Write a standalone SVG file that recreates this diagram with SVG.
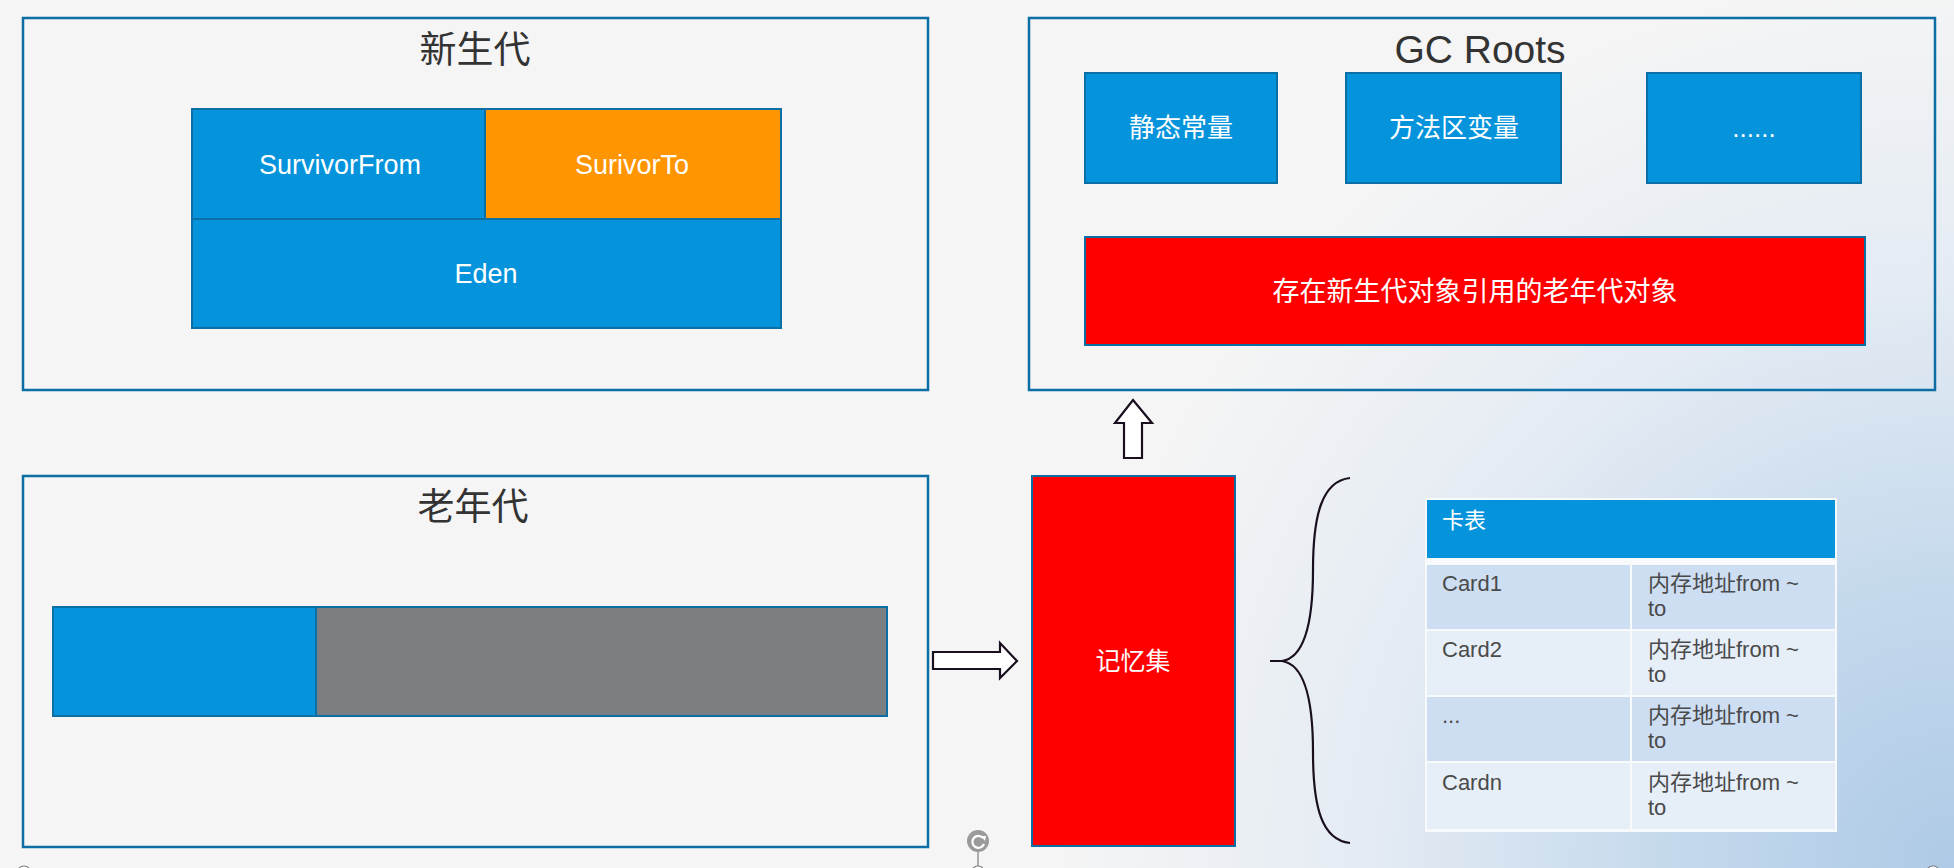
<svg xmlns="http://www.w3.org/2000/svg" width="1954" height="868" viewBox="0 0 1954 868">
<defs>
<radialGradient id="bg" gradientUnits="userSpaceOnUse" cx="1954" cy="868" r="900">
<stop offset="0" stop-color="#aecae6"/>
<stop offset="0.3" stop-color="#c3d8ec"/>
<stop offset="0.65" stop-color="#e4ebf3"/>
<stop offset="1" stop-color="#f5f5f5"/>
</radialGradient>
<style>
.frame{fill:none;stroke:#0b6ea5;stroke-width:2.5}
.blue{fill:#0594dc;stroke:#0b6ea5;stroke-width:2}
.orange{fill:#ff9500;stroke:#0b6ea5;stroke-width:2}
.red{fill:#ff0000;stroke:#0b6ea5;stroke-width:2}
.gray{fill:#7b7f82;stroke:#0b6ea5;stroke-width:2}
.arrow{fill:#ffffff;stroke:#1a0f1f;stroke-width:2.2;stroke-linejoin:miter}
.title{font-family:"Liberation Sans","Noto Sans CJK SC",sans-serif;fill:#333333;text-anchor:middle}
.wt{font-family:"Liberation Sans","Noto Sans CJK SC",sans-serif;fill:#ffffff;text-anchor:middle;dominant-baseline:central}
.cell{font-family:"Liberation Sans","Noto Sans CJK SC",sans-serif;fill:#4a4a4a;font-size:22px}
.r1{fill:#cddef2}
.r2{fill:#e6eef8}
</style>
</defs>
<rect x="0" y="0" width="1954" height="868" fill="url(#bg)"/>

<g id="young-gen">
<rect class="frame" x="23" y="18" width="905" height="372"/>
<text class="title" x="475" y="50" font-size="37" dominant-baseline="central">新生代</text>
</g>
<g id="survivor-from">
<rect class="blue" x="192" y="109" width="293" height="110"/>
<text class="wt" x="340" y="165" font-size="27">SurvivorFrom</text>
</g>
<g id="survivor-to">
<rect class="orange" x="485" y="109" width="296" height="110"/>
<text class="wt" x="632" y="165" font-size="27">SurivorTo</text>
</g>
<g id="eden">
<rect class="blue" x="192" y="219" width="589" height="109"/>
<text class="wt" x="486" y="274" font-size="27">Eden</text>
</g>

<g id="gc-roots">
<rect class="frame" x="1029" y="18" width="906" height="372"/>
<text class="title" x="1480" y="63" font-size="39">GC Roots</text>
</g>
<g id="static-const">
<rect class="blue" x="1085" y="73" width="192" height="110"/>
<text class="wt" x="1181" y="128" font-size="26">静态常量</text>
</g>
<g id="method-area">
<rect class="blue" x="1346" y="73" width="215" height="110"/>
<text class="wt" x="1454" y="128" font-size="26">方法区变量</text>
</g>
<g id="more-roots">
<rect class="blue" x="1647" y="73" width="214" height="110"/>
<text class="wt" x="1754" y="128" font-size="26">......</text>
</g>
<g id="old-refs">
<rect class="red" x="1085" y="237" width="780" height="108"/>
<text class="wt" x="1475" y="292" font-size="27">存在新生代对象引用的老年代对象</text>
</g>

<g id="old-gen">
<rect class="frame" x="23" y="476" width="905" height="371"/>
<text class="title" x="473" y="507" font-size="37" dominant-baseline="central">老年代</text>
<rect class="blue" x="53" y="607" width="263" height="109"/>
<rect class="gray" x="316" y="607" width="571" height="109"/>
</g>

<g id="remembered-set">
<rect class="red" x="1032" y="476" width="203" height="370"/>
<text class="wt" x="1133" y="661" font-size="25">记忆集</text>
</g>

<g id="card-table">
<rect x="1425" y="498" width="412" height="334" fill="#f8f9fb"/>
<rect x="1427" y="500" width="408" height="58" fill="#0594dc"/>
<text x="1442" y="528" font-family="Liberation Sans,Noto Sans CJK SC,sans-serif" font-size="22" fill="#ffffff">卡表</text>
<rect class="r1" x="1427" y="565" width="203" height="64"/>
<rect class="r1" x="1632" y="565" width="203" height="64"/>
<rect class="r2" x="1427" y="631" width="203" height="64"/>
<rect class="r2" x="1632" y="631" width="203" height="64"/>
<rect class="r1" x="1427" y="697" width="203" height="64"/>
<rect class="r1" x="1632" y="697" width="203" height="64"/>
<rect class="r2" x="1427" y="763" width="203" height="66"/>
<rect class="r2" x="1632" y="763" width="203" height="66"/>
<text class="cell" x="1442" y="591">Card1</text>
<text class="cell" x="1648" y="591">内存地址from ~</text>
<text class="cell" x="1648" y="616">to</text>
<text class="cell" x="1442" y="657">Card2</text>
<text class="cell" x="1648" y="657">内存地址from ~</text>
<text class="cell" x="1648" y="682">to</text>
<text class="cell" x="1442" y="723">...</text>
<text class="cell" x="1648" y="723">内存地址from ~</text>
<text class="cell" x="1648" y="748">to</text>
<text class="cell" x="1442" y="790">Cardn</text>
<text class="cell" x="1648" y="790">内存地址from ~</text>
<text class="cell" x="1648" y="815">to</text>
</g>

<g id="connectors">
<polygon class="arrow" points="1133,400 1152,423 1142,423 1142,458 1124,458 1124,423 1115,423"/>
<polygon class="arrow" points="933,652 1000,652 1000,643 1017,661 1000,678 1000,669 933,669"/>
<path d="M1350,478 C1322,481 1313,515 1313,570 C1313,630 1302,658 1282,661 L1270,661 M1282,661 C1302,664 1313,692 1313,752 C1313,808 1322,840 1350,843" fill="none" stroke="#1a0f1f" stroke-width="2.2"/>
</g>

<g id="handles">
<circle cx="978" cy="841" r="11" fill="#9a9a9a"/>
<path d="M983,838 A6,6 0 1 0 984,844" fill="none" stroke="#ffffff" stroke-width="2.2"/>
<path d="M981,836 L986,836 L985,841 Z" fill="#ffffff"/>
<line x1="978" y1="852" x2="978" y2="866" stroke="#666666" stroke-width="1"/>
<circle cx="978" cy="873" r="7" fill="#ffffff" stroke="#777777" stroke-width="1.2"/>
<circle cx="24" cy="873" r="7" fill="#ffffff" stroke="#777777" stroke-width="1.2"/>
<circle cx="1933" cy="873" r="7" fill="#ffffff" stroke="#777777" stroke-width="1.2"/>
</g>
</svg>
